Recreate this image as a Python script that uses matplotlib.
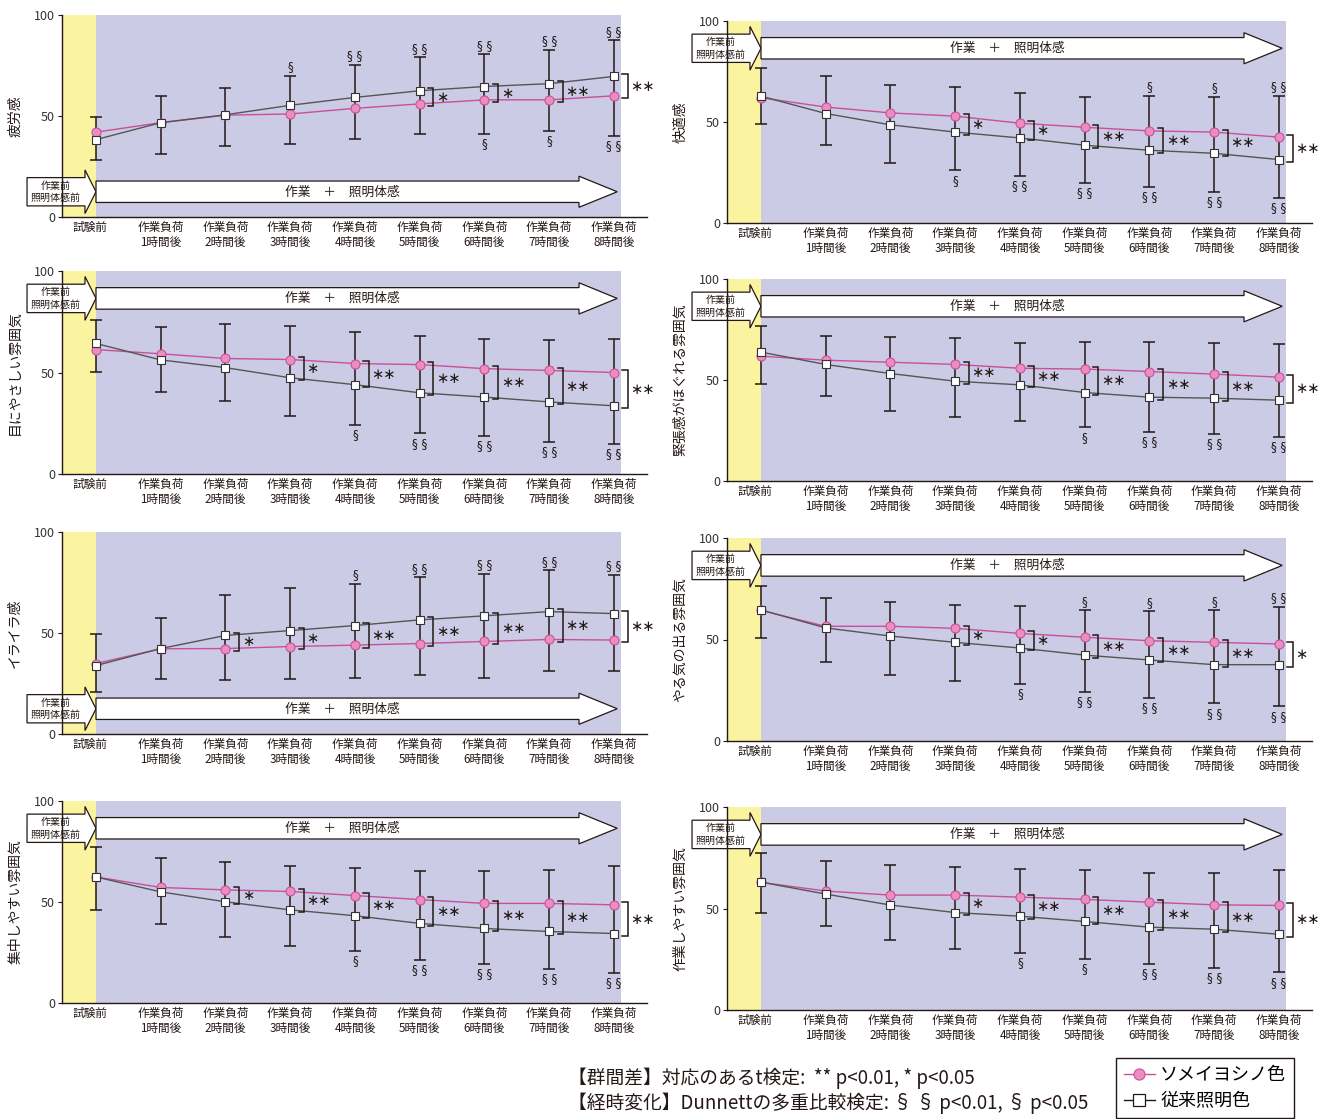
import numpy as np
import matplotlib
matplotlib.use("Agg")
import matplotlib.pyplot as plt
from matplotlib.patches import Polygon
from matplotlib.lines import Line2D

plt.rcParams['font.family'] = ['Noto Sans CJK JP', 'DejaVu Sans']

# ---------------------------------------------------------------- data
time_labels = ['試験前', '作業負荷\n1時間後', '作業負荷\n2時間後', '作業負荷\n3時間後',
               '作業負荷\n4時間後', '作業負荷\n5時間後', '作業負荷\n6時間後',
               '作業負荷\n7時間後', '作業負荷\n8時間後']
series_names = ['ソメイヨシノ色', '従来照明色']

# 疲労感
fatigue_pink = [42, 46.7, 50.4, 51, 53.8, 56, 58, 58, 60]
fatigue_white = [38.3, 46.7, 50.6, 55.3, 59.2, 62.5, 64.6, 66, 69.6]
fatigue_hi = [49.3, 59.7, 64.1, 70, 75.2, 79, 80.6, 82.9, 87.5]
fatigue_lo = [28, 31.3, 35.2, 36.2, 38.8, 41.1, 41.1, 42.8, 40.1]
fatigue_sig = ['', '', '', '', '', '*', '*', '**', '**']
fatigue_dun_hi = ['', '', '', '§', '§ §', '§ §', '§ §', '§ §', '§ §']
fatigue_dun_lo = ['', '', '', '', '', '', '§', '§', '§ §']

# 快適感
comfort_pink = [62, 57.4, 54.5, 52.9, 49.4, 47.4, 45.6, 45, 42.5]
comfort_white = [62.8, 54.2, 48.6, 45, 42.1, 38.5, 36, 34.5, 31.4]
comfort_hi = [76.9, 72.9, 68.4, 67.4, 64.6, 62.5, 63, 62.5, 63]
comfort_lo = [48.8, 38.8, 29.9, 26, 23.5, 19.8, 18, 15.5, 12.4]
comfort_sig = ['', '', '', '*', '*', '**', '**', '**', '**']
comfort_dun_hi = ['', '', '', '', '', '', '§', '§', '§ §']
comfort_dun_lo = ['', '', '', '§', '§ §', '§ §', '§ §', '§ §', '§ §']

# 目にやさしい雰囲気
eye_pink = [61.3, 59.2, 56.9, 56.4, 54.4, 53.9, 51.9, 51, 50]
eye_white = [64.3, 56.2, 52.4, 47.4, 44, 40, 37.9, 35.5, 33.6]
eye_hi = [75.9, 72.4, 73.9, 72.9, 69.9, 67.9, 66.4, 66, 66.4]
eye_lo = [50.1, 40.2, 35.9, 28.4, 24, 20, 18.7, 16, 15]
eye_sig = ['', '', '', '*', '**', '**', '**', '**', '**']
eye_dun_hi = [''] * 9
eye_dun_lo = ['', '', '', '', '§', '§ §', '§ §', '§ §', '§ §']

# 緊張感がほぐれる雰囲気
relax_pink = [61.8, 59.8, 58.8, 57.7, 55.8, 55.4, 54.2, 52.9, 51.4]
relax_white = [63.8, 57.7, 53.2, 49.4, 47.6, 43.8, 41.5, 41, 40]
relax_hi = [76.8, 71.8, 71.3, 71, 68.4, 68.9, 68.9, 68.4, 68]
relax_lo = [48.1, 42.3, 34.6, 31.5, 29.7, 26.5, 24.2, 23.2, 21.7]
relax_sig = ['', '', '', '**', '**', '**', '**', '**', '**']
relax_dun_hi = [''] * 9
relax_dun_lo = ['', '', '', '', '', '§', '§ §', '§ §', '§ §']

# イライラ感
irritation_pink = [34.9, 42.2, 42.3, 43.3, 44, 44.8, 45.8, 46.8, 46.5]
irritation_white = [33.9, 42.3, 48.8, 51.2, 53.7, 56.5, 58.5, 60.6, 59.6]
irritation_hi = [49.4, 57.3, 68.7, 72.2, 74.5, 77.6, 79.4, 81.1, 78.9]
irritation_lo = [20.6, 27.3, 26.9, 27.3, 27.8, 29, 27.8, 31.3, 31.3]
irritation_sig = ['', '', '*', '*', '**', '**', '**', '**', '**']
irritation_dun_hi = ['', '', '', '', '§', '§ §', '§ §', '§ §', '§ §']
irritation_dun_lo = [''] * 9

# やる気の出る雰囲気
motivation_pink = [64.3, 56.5, 56.5, 55.5, 53, 51.1, 49.4, 48.6, 47.8]
motivation_white = [64.6, 55.7, 51.7, 48.6, 45.8, 42.3, 39.9, 37.6, 37.6]
motivation_hi = [76.6, 70.3, 68.7, 67.2, 66.4, 64.3, 63.9, 64.3, 66.2]
motivation_lo = [50.9, 39, 32.6, 29.7, 28.3, 24, 21.4, 18.5, 17]
motivation_sig = ['', '', '', '*', '*', '**', '**', '**', '*']
motivation_dun_hi = ['', '', '', '', '', '§', '§', '§', '§ §']
motivation_dun_lo = ['', '', '', '', '§', '§ §', '§ §', '§ §', '§ §']

# 集中しやすい雰囲気
focus_pink = [62.4, 57.2, 56, 55.2, 53.2, 51.2, 49.3, 49.3, 48.6]
focus_white = [62.4, 55, 50.1, 46.1, 43.2, 39.4, 36.9, 35.4, 34.4]
focus_hi = [77.4, 71.7, 70, 68, 66.7, 65.2, 65.2, 65.7, 68]
focus_lo = [46, 39, 32.8, 28.2, 25.7, 21.3, 19.3, 16.8, 15]
focus_sig = ['', '', '*', '**', '**', '**', '**', '**', '**']
focus_dun_hi = [''] * 9
focus_dun_lo = ['', '', '', '', '§', '§ §', '§ §', '§ §', '§ §']

# 作業しやすい雰囲気
work_pink = [62.9, 58.6, 56.6, 56.6, 55.6, 54.5, 53.1, 51.8, 51.5]
work_white = [63, 57.1, 51.7, 48, 46.2, 43.6, 40.8, 39.8, 37.3]
work_hi = [77.1, 73.6, 71.5, 70.6, 69.6, 69.1, 67.7, 67.7, 69.1]
work_lo = [48, 41.6, 34.7, 30.2, 28.2, 25.2, 22.8, 20.8, 18.5]
work_sig = ['', '', '', '*', '**', '**', '**', '**', '**']
work_dun_hi = [''] * 9
work_dun_lo = ['', '', '', '', '§', '§', '§ §', '§ §', '§ §']

# ---------------------------------------------------------------- style
W, H = 1322, 1119
INK = '#231815'
YELLOW = '#FAF3A0'
LAVENDER = '#CBCBE6'
PINK_LINE = '#C8509A'
PINK_FACE = '#EC8DC2'
GRAY_LINE = '#555555'

fig = plt.figure(figsize=(W / 100, H / 100), dpi=100)
fig.patch.set_facecolor('white')

XMIN, XMAX, X_PURPLE = -0.525, 8.51, 8.11
AX_W = 585

# (title, pink, white, hi, lo, sig, §above, §below, arrow at top?, left px, y100 px, y0 px)
panels = [
    ('疲労感', fatigue_pink, fatigue_white, fatigue_hi, fatigue_lo, fatigue_sig,
     fatigue_dun_hi, fatigue_dun_lo, False, 62, 15, 217),
    ('快適感', comfort_pink, comfort_white, comfort_hi, comfort_lo, comfort_sig,
     comfort_dun_hi, comfort_dun_lo, True, 727, 21, 223),
    ('目にやさしい雰囲気', eye_pink, eye_white, eye_hi, eye_lo, eye_sig,
     eye_dun_hi, eye_dun_lo, True, 62, 271, 474),
    ('緊張感がほぐれる雰囲気', relax_pink, relax_white, relax_hi, relax_lo, relax_sig,
     relax_dun_hi, relax_dun_lo, True, 727, 279, 481),
    ('イライラ感', irritation_pink, irritation_white, irritation_hi, irritation_lo,
     irritation_sig, irritation_dun_hi, irritation_dun_lo, False, 62, 532, 734),
    ('やる気の出る雰囲気', motivation_pink, motivation_white, motivation_hi, motivation_lo,
     motivation_sig, motivation_dun_hi, motivation_dun_lo, True, 727, 538, 741),
    ('集中しやすい雰囲気', focus_pink, focus_white, focus_hi, focus_lo, focus_sig,
     focus_dun_hi, focus_dun_lo, True, 62, 801, 1003),
    ('作業しやすい雰囲気', work_pink, work_white, work_hi, work_lo, work_sig,
     work_dun_hi, work_dun_lo, True, 727, 807, 1010),
]


def draw_arrows(ax, c):
    """Phase arrows: short 'before' arrow and long 'work + lighting' arrow."""
    bx0, bx1 = -1.065, -0.17
    small = [(bx0, c - 7), (bx1, c - 7), (bx1, c - 10.8), (0.0, c),
             (bx1, c + 10.8), (bx1, c + 7), (bx0, c + 7)]
    hx = 7.46
    big = [(0.0, c - 5.3), (hx, c - 5.3), (hx, c - 7.7), (8.05, c),
           (hx, c + 7.7), (hx, c + 5.3), (0.0, c + 5.3)]
    for pts in (small, big):
        ax.add_patch(Polygon(pts, closed=True, facecolor='white', edgecolor=INK,
                             linewidth=0.9, clip_on=False, zorder=2))
    ax.text((bx0 + bx1) / 2, c, '作業前\n照明体感前', ha='center', va='center',
            fontsize=7.2, linespacing=1.3, color=INK, zorder=2.5)
    ax.text(3.8, c, '作業　＋　照明体感', ha='center', va='center',
            fontsize=9.2, color=INK, zorder=2.5)


for (title, pink, white, hi, lo, sig, dun_hi, dun_lo, arrow_top,
     left_px, top_px, bot_px) in panels:
    ax = fig.add_axes([left_px / W, 1 - bot_px / H, AX_W / W, (bot_px - top_px) / H])
    pink, white = np.asarray(pink, float), np.asarray(white, float)
    hi, lo = np.asarray(hi, float), np.asarray(lo, float)
    x = np.arange(len(time_labels))

    ax.set_xlim(XMIN, XMAX)
    ax.set_ylim(0, 100)
    ax.set_facecolor('none')
    ax.axvspan(XMIN, 0, color=YELLOW, zorder=0, lw=0)
    ax.axvspan(0, X_PURPLE, color=LAVENDER, zorder=0, lw=0)

    for side in ('top', 'right'):
        ax.spines[side].set_visible(False)
    for side in ('left', 'bottom'):
        ax.spines[side].set_color(INK)
        ax.spines[side].set_linewidth(1.0)
        ax.spines[side].set_zorder(6)

    ax.set_yticks([0, 50, 100])
    ax.tick_params(axis='y', length=3, width=0.8, color=INK, labelsize=9,
                   labelcolor='#333333', pad=2)
    ax.set_xticks([])
    for i, lab in enumerate(time_labels):
        ax.annotate(lab, xy=(i, 0), xycoords=('data', 'axes fraction'),
                    xytext=(-4.5 if i == 0 else 0, -3), textcoords='offset points',
                    ha='center', va='top', fontsize=8.4, linespacing=1.2,
                    color=INK, annotation_clip=False)

    ax.text(-0.08, 0.5, title, transform=ax.transAxes, rotation=90,
            ha='center', va='center', fontsize=10, color=INK)

    draw_arrows(ax, 86.5 if arrow_top else 12.5)

    # spread of the two series at each time point
    ax.errorbar(x, (hi + lo) / 2, yerr=(hi - lo) / 2, fmt='none', ecolor=INK,
                elinewidth=1.1, capsize=4.5, capthick=1.1, zorder=3)

    ax.plot(x, pink, color=PINK_LINE, lw=1.0, marker='o', ms=6.5,
            mfc=PINK_FACE, mec=PINK_LINE, mew=0.8, zorder=4, clip_on=False)
    ax.plot(x, white, color=GRAY_LINE, lw=1.0, marker='s', ms=6,
            mfc='white', mec='#333333', mew=0.8, zorder=5, clip_on=False)

    # group-difference brackets
    for i, s in enumerate(sig):
        if not s:
            continue
        top = max(pink[i], white[i]) + 1.2
        bot = min(pink[i], white[i]) - 1.2
        xa, xb = i + 0.13, i + 0.21
        ax.plot([xa, xb, xb, xa], [top, top, bot, bot], color=INK, lw=1.1,
                clip_on=False, zorder=5, solid_joinstyle='miter')
        ax.text(i + 0.25, (top + bot) / 2, s.replace('*', '∗'), ha='left',
                va='center', fontsize=10.5, family='DejaVu Sans', color=INK,
                clip_on=False)

    # Dunnett marks above / below the whiskers
    for i in range(len(x)):
        if dun_hi[i]:
            ax.text(i, hi[i] + 4.5, dun_hi[i], ha='center', va='center',
                    fontsize=8.5, family='DejaVu Sans', color=INK)
        if dun_lo[i]:
            ax.text(i, lo[i] - 4.8, dun_lo[i], ha='center', va='center',
                    fontsize=8.5, family='DejaVu Sans', color=INK)

# ---------------------------------------------------------------- notes and legend
fig.text(568 / W, 1 - 1078 / H, '【群間差】対応のあるt検定:  ** p<0.01, * p<0.05',
         ha='left', va='center', fontsize=13.5, color=INK)
fig.text(568 / W, 1 - 1103 / H, '【経時変化】Dunnettの多重比較検定: § § p<0.01, § p<0.05',
         ha='left', va='center', fontsize=13.5, color=INK)

handles = [
    Line2D([], [], color=PINK_LINE, lw=1.0, marker='o', ms=8, mfc=PINK_FACE,
           mec=PINK_LINE, mew=0.8),
    Line2D([], [], color=INK, lw=1.0, marker='s', ms=8, mfc='white',
           mec=INK, mew=0.9),
]
leg = fig.legend(handles, series_names, loc='upper left',
                 bbox_to_anchor=(1116 / W, 1 - 1058 / H), frameon=True,
                 fancybox=False, edgecolor=INK, framealpha=1, fontsize=13,
                 handlelength=1.7, handletextpad=0.3, borderpad=0.45,
                 labelspacing=0.45, borderaxespad=0)
leg.get_frame().set_linewidth(1.0)

fig.savefig('out.png', dpi=100)
